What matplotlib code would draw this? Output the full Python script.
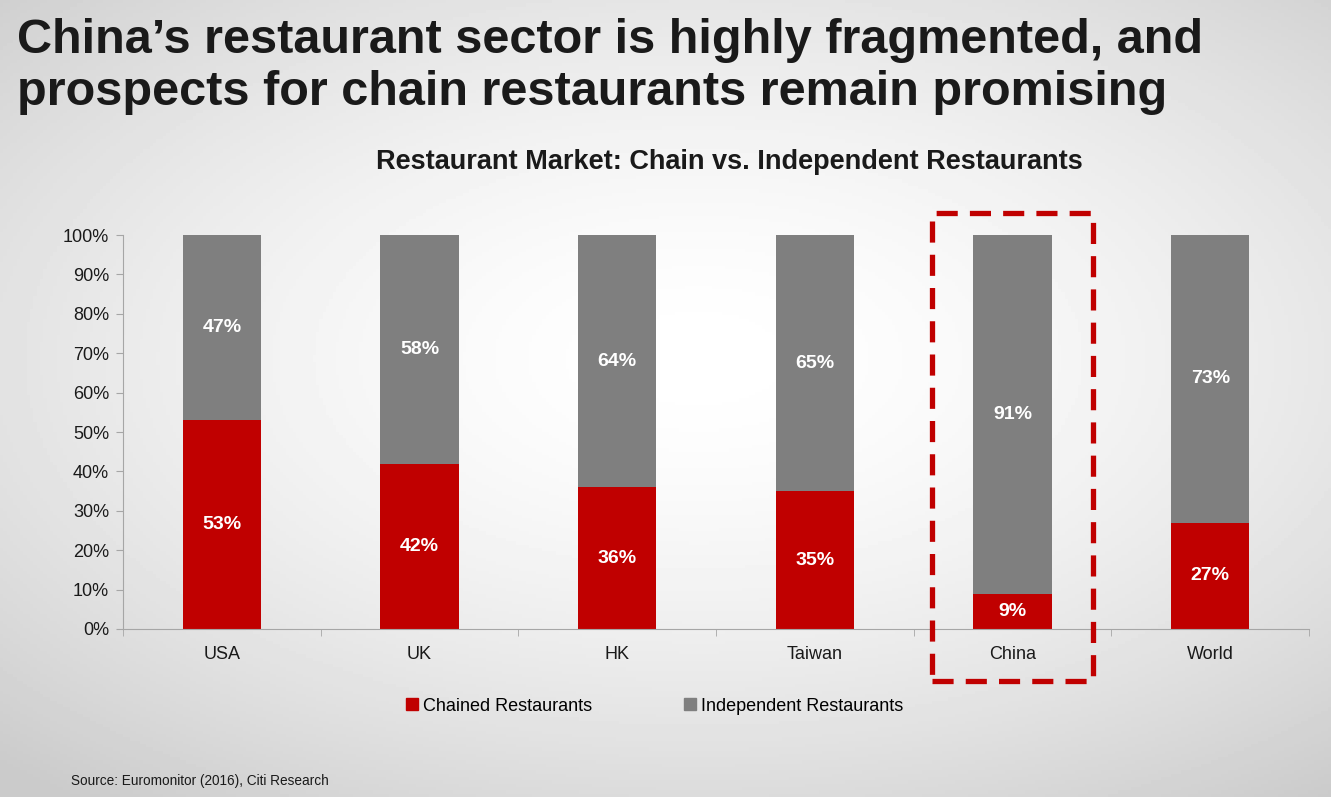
import numpy as np
import matplotlib
matplotlib.use("Agg")
import matplotlib.pyplot as plt
from matplotlib.patches import Rectangle, Patch

# Data
countries = ["USA", "UK", "HK", "Taiwan", "China", "World"]
chained = [53, 42, 36, 35, 9, 27]
independent = [47, 58, 64, 65, 91, 73]
y_ticks = [0, 10, 20, 30, 40, 50, 60, 70, 80, 90, 100]

RED = "#c00000"
GREY = "#7f7f7f"
plt.rcParams["font.family"] = ["Liberation Sans", "DejaVu Sans"]

fig = plt.figure(figsize=(13.31, 7.97), dpi=100)

# Radial gradient background
bg = fig.add_axes([0, 0, 1, 1], zorder=-10)
gx, gy = np.meshgrid(np.linspace(-1, 1, 400), np.linspace(-1, 1, 240))
r = np.sqrt(((gx - 0.05) / 1.1) ** 2 + ((gy + 0.1) / 1.0) ** 2)
shade = 1.0 - 0.12 * np.clip(r, 0, 1.4) ** 1.6
bg.imshow(shade, cmap="gray", vmin=0, vmax=1, aspect="auto", extent=[0, 1, 0, 1])
bg.axis("off")

# Slide title
fig.text(0.013, 0.977, "China\u2019s restaurant sector is highly fragmented, and\n"
         "prospects for chain restaurants remain promising",
         fontsize=35, fontweight="bold", color="#1a1a1a", va="top", ha="left",
         linespacing=1.2)

ax = fig.add_axes([0.0924, 0.2108, 0.8911, 0.4943])
ax.patch.set_alpha(0)
x = np.arange(len(countries))
width = 0.395
ax.bar(x, chained, width, color=RED, label="Chained Restaurants")
ax.bar(x, independent, width, bottom=chained, color=GREY, label="Independent Restaurants")

for i in range(len(countries)):
    ax.text(x[i], chained[i] / 2, f"{chained[i]}%", ha="center", va="center",
            color="white", fontsize=14, fontweight="bold")
    ax.text(x[i], chained[i] + independent[i] / 2, f"{independent[i]}%", ha="center",
            va="center", color="white", fontsize=14, fontweight="bold")

ax.set_xlim(-0.5, len(countries) - 0.5)
ax.set_ylim(0, 100)
ax.set_yticks(y_ticks)
ax.set_yticklabels([f"{v}%" for v in y_ticks], fontsize=13, color="#1a1a1a")
ax.set_xticks(x)
ax.set_xticklabels(countries, fontsize=13, color="#1a1a1a")
ax.set_xticks(np.arange(-0.5, len(countries)), minor=True)
ax.tick_params(axis="x", which="major", length=0, pad=12)
ax.tick_params(axis="x", which="minor", length=5, color="#a6a6a6")
ax.tick_params(axis="y", length=5, color="#a6a6a6", pad=5)
for s in ["top", "right"]:
    ax.spines[s].set_visible(False)
for s in ["left", "bottom"]:
    ax.spines[s].set_color("#a6a6a6")

fig.text(0.548, 0.797, "Restaurant Market: Chain vs. Independent Restaurants",
         fontsize=19.5, fontweight="bold", color="#1a1a1a", ha="center", va="center")

handles = [Patch(color=RED), Patch(color=GREY)]
fig.legend(handles, ["Chained Restaurants", "Independent Restaurants"],
           loc="center", bbox_to_anchor=(0.492, 0.114), ncol=2, frameon=False,
           fontsize=13, handlelength=0.65, handleheight=0.65, handletextpad=0.3,
           columnspacing=5.1)

# Dashed highlight around China
fig.patches.append(Rectangle((932 / 1331, (797 - 681) / 797), 161 / 1331, 468 / 797,
                             transform=fig.transFigure, fill=False, edgecolor=RED,
                             linewidth=3.8, linestyle=(0, (4, 2.3)), zorder=5))

fig.text(0.053, 0.02, "Source: Euromonitor (2016), Citi Research", fontsize=9.8,
         color="#1a1a1a", ha="left", va="center")

fig.savefig("out.png", dpi=100)
